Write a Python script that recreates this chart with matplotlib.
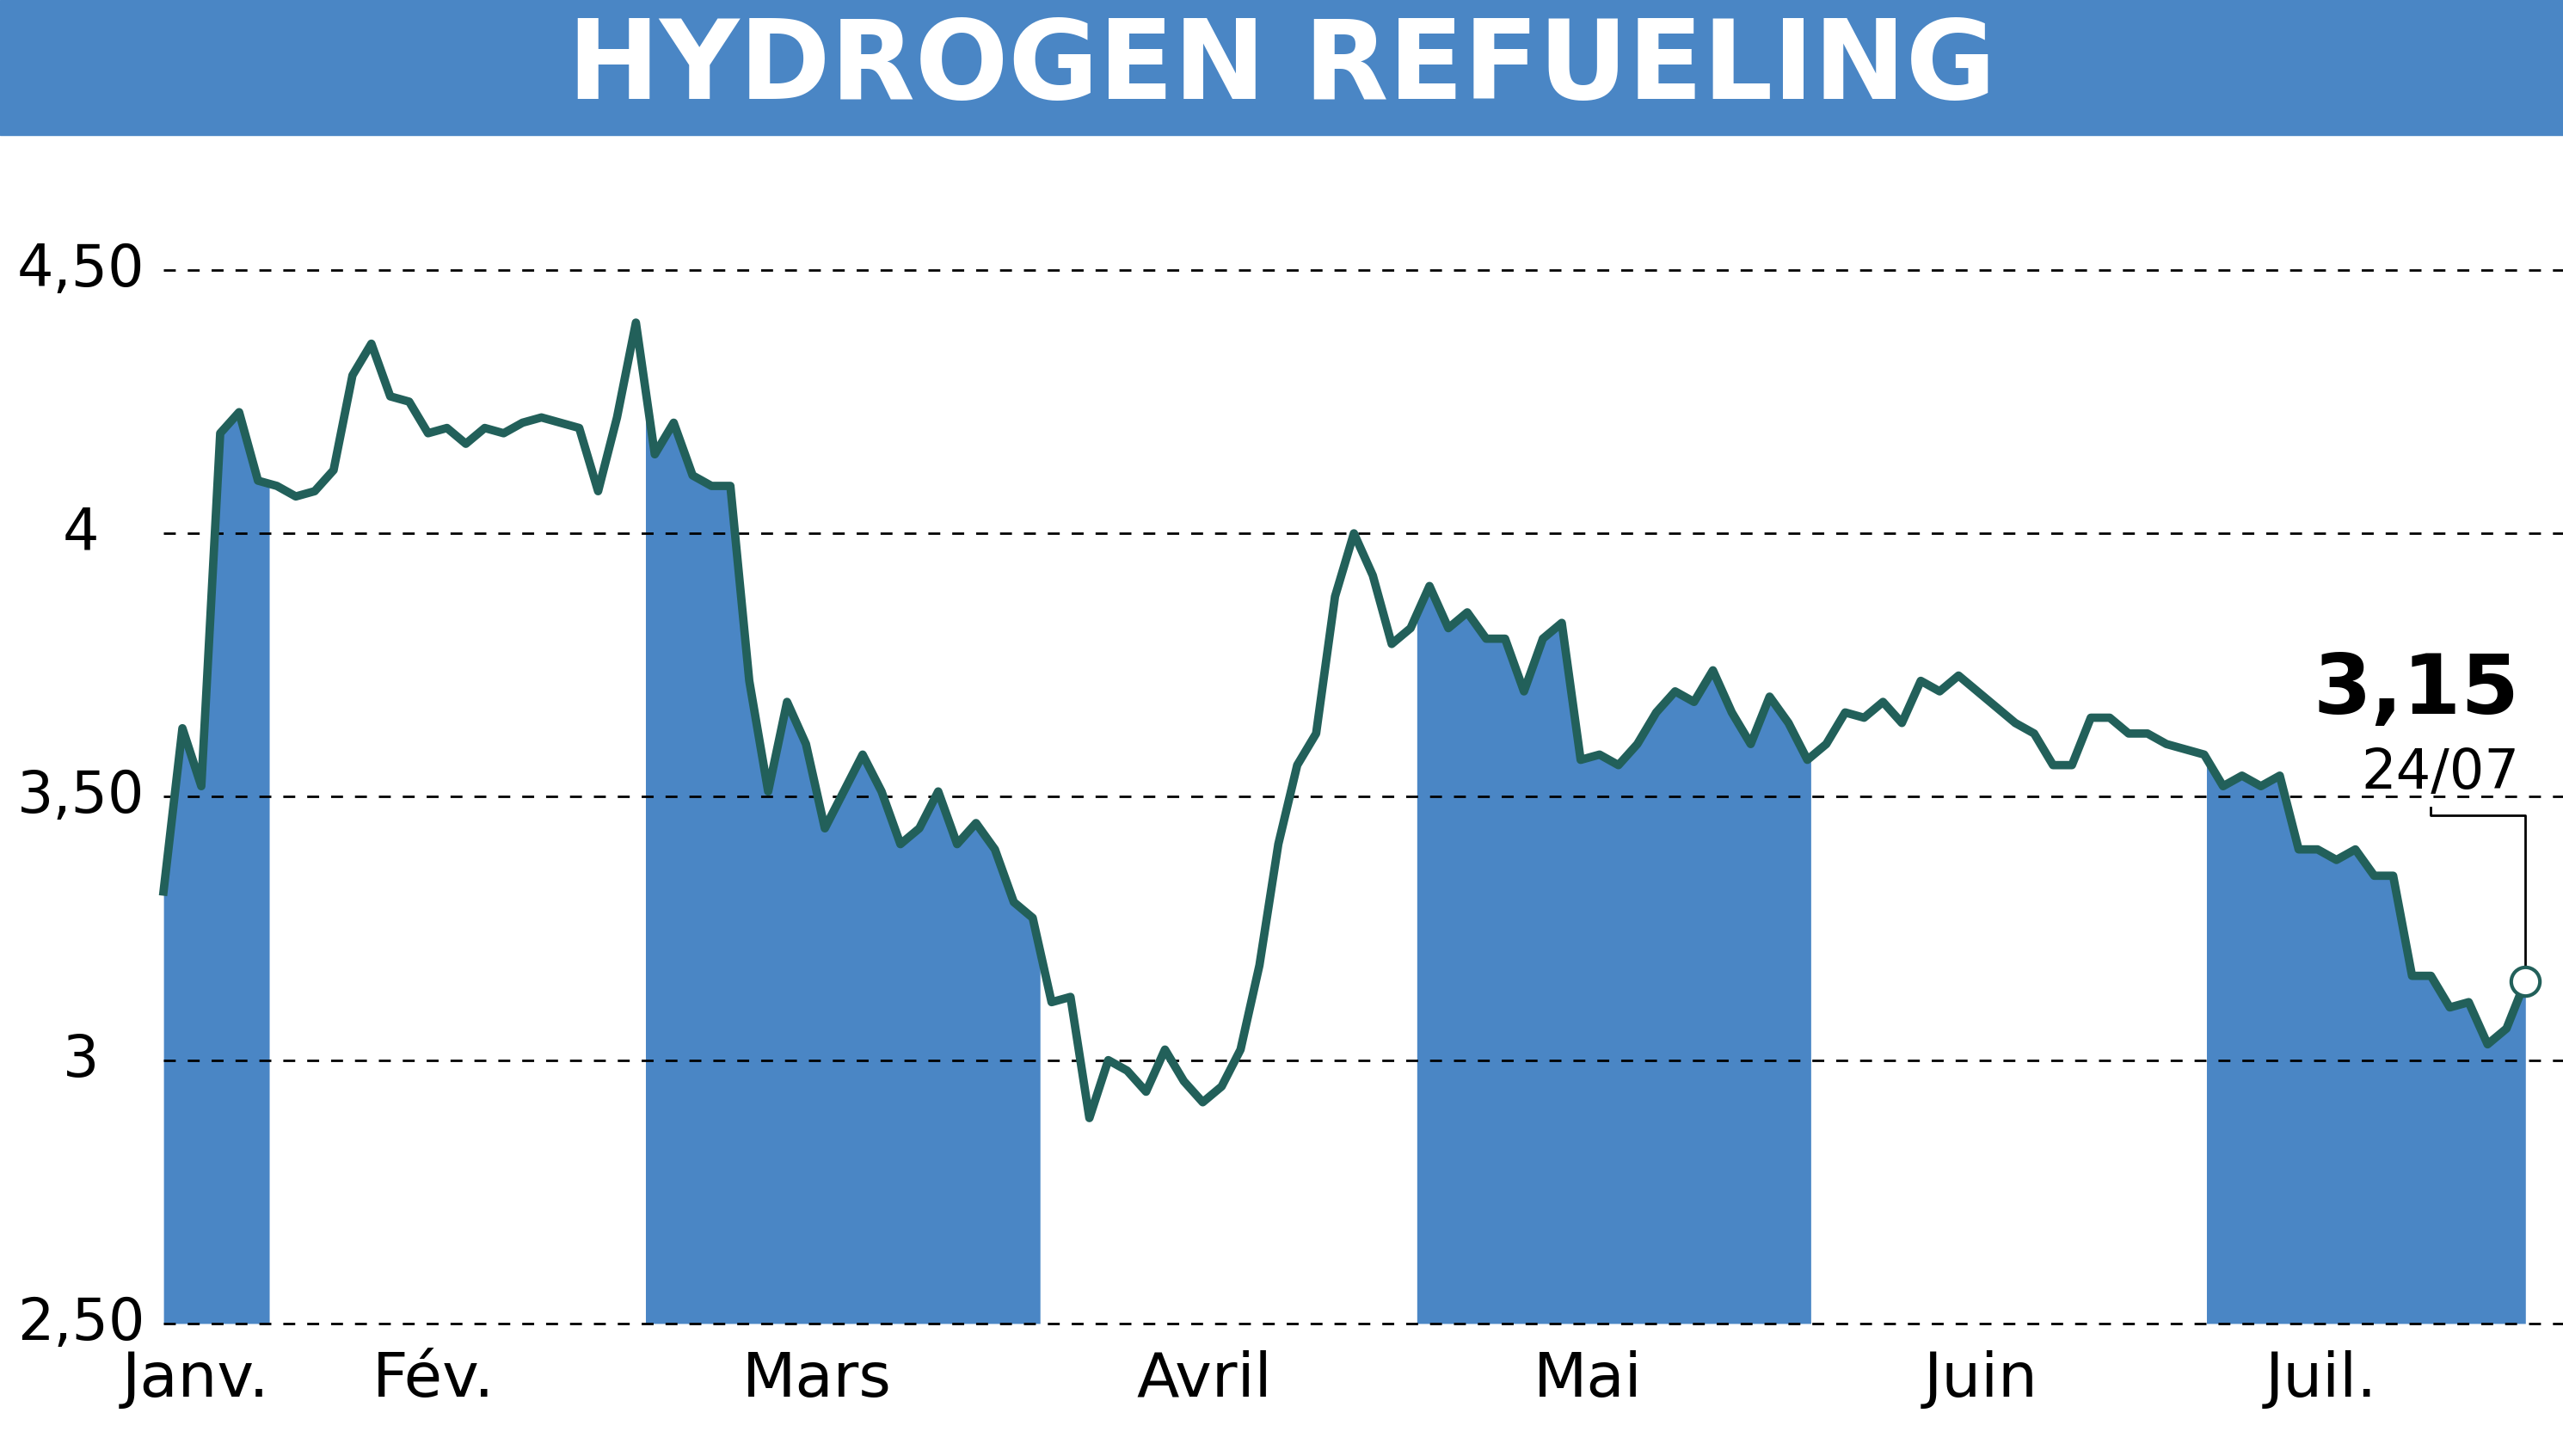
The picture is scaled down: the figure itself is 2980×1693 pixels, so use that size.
import numpy as np
import matplotlib
matplotlib.use("Agg")
import matplotlib.pyplot as plt

title = "HYDROGEN REFUELING"
prices = [3.32,3.63,3.52,4.19,4.23,4.10,4.09,4.07,4.08,4.12,4.30,4.36,4.26,4.25,4.19,4.20,4.17,4.20,4.19,4.21,
          4.22,4.21,4.20,4.08,4.22,4.40,4.15,4.21,4.11,4.09,4.09,3.72,3.51,3.68,3.60,3.44,3.51,3.58,3.51,3.41,
          3.44,3.51,3.41,3.45,3.40,3.30,3.27,3.11,3.12,2.89,3.00,2.98,2.94,3.02,2.96,2.92,2.95,3.02,3.18,3.41,
          3.56,3.62,3.88,4.00,3.92,3.79,3.82,3.90,3.82,3.85,3.80,3.80,3.70,3.80,3.83,3.57,3.58,3.56,3.60,3.66,
          3.70,3.68,3.74,3.66,3.60,3.69,3.64,3.57,3.60,3.66,3.65,3.68,3.64,3.72,3.70,3.73,3.70,3.67,3.64,3.62,
          3.56,3.56,3.65,3.65,3.62,3.62,3.60,3.59,3.58,3.52,3.54,3.52,3.54,3.40,3.40,3.38,3.40,3.35,3.35,3.16,
          3.16,3.10,3.11,3.03,3.06,3.15]
months = ["Janv.", "Fév.", "Mars", "Avril", "Mai", "Juin", "Juil."]
month_starts = [0, 5.6, 25.5, 46.4, 66.3, 87.2, 108.1]
month_label_pos = [1.7, 14.3, 34.6, 55.1, 75.4, 96.2, 114.2]
yticks = [2.5, 3.0, 3.5, 4.0, 4.5]
ytick_labels = ["2,50", "3", "3,50", "4", "4,50"]
last_label = "3,15"
last_date = "24/07"

blue = "#4a86c5"
teal = "#22605a"
FONT = "DejaVu Sans"

fig = plt.figure(figsize=(29.8, 16.93), dpi=100)
fig.patches.append(plt.Rectangle((0, 0.907), 1, 0.093, transform=fig.transFigure, color=blue, zorder=0))
fig.text(0.5, 0.953, title, ha="center", va="center", color="white", fontsize=92,
         fontweight="bold", family=FONT)

ax = fig.add_axes([0.0638, 0.091, 0.9362, 0.7236])
x = np.arange(len(prices))
n = len(prices) - 1
xmax = n * 1468 / 1445
ax.set_xlim(0, xmax)
ax.set_ylim(2.5, 4.5)

xd = np.linspace(0, n, 4000)
yd = np.interp(xd, x, prices)
bounds = month_starts + [n]
for i in range(0, len(months), 2):
    m = (xd >= bounds[i]) & (xd <= bounds[i + 1])
    ax.fill_between(xd[m], yd[m], 2.5, color=blue, lw=0, zorder=1)

for yt in yticks:
    ax.axhline(yt, color="black", lw=2, ls=(0, (5, 5)), zorder=2, clip_on=False)

ax.plot(x, prices, color=teal, lw=7, zorder=3, solid_joinstyle="round", clip_on=False)
ax.plot(x[-1], prices[-1], "o", ms=24, mfc="white", mec=teal, mew=3, zorder=5, clip_on=False)

for s in ax.spines.values():
    s.set_visible(False)
ax.set_xticks([]); ax.set_yticks([])
for yt, lab in zip(yticks, ytick_labels):
    ax.text(-0.0345 * xmax, yt, lab, ha="center", va="center", fontsize=48,
            family=FONT, clip_on=False)
for p, lab in zip(month_label_pos, months):
    ax.text(p, 2.5 - 0.05, lab, ha="center", va="top", fontsize=52, family=FONT)

xl = x[-1]
ax.plot([xl, xl, xl - 5.0, xl - 5.0], [prices[-1] + 0.03, 3.465, 3.465, 3.48], color="black", lw=2, zorder=4)
ax.text(xl - 0.3, 3.70, last_label, ha="right", va="center", fontsize=70, fontweight="bold", family=FONT)
ax.text(xl - 0.3, 3.545, last_date, ha="right", va="center", fontsize=46, family=FONT)

fig.savefig("out.png", dpi=100)
